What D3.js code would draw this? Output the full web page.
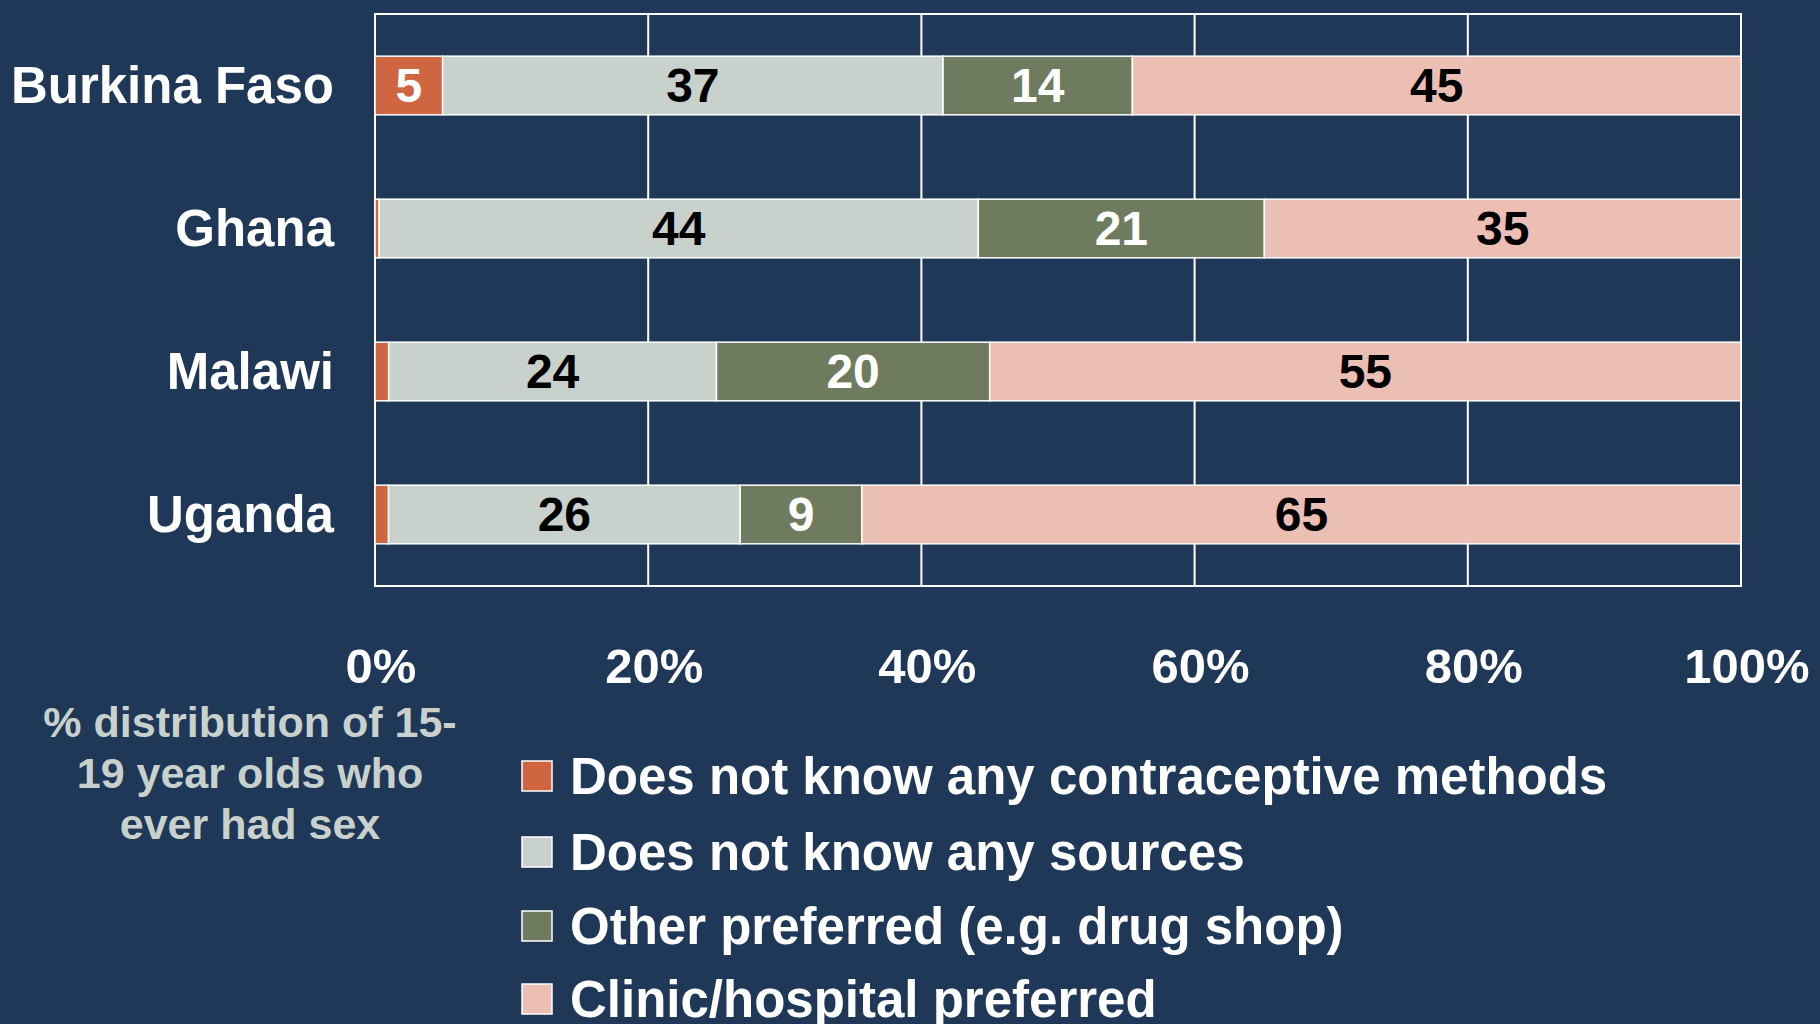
<!DOCTYPE html>
<html>
<head>
<meta charset="utf-8">
<script src="https://cdn.jsdelivr.net/npm/d3@7"></script>
<style>
  html, body { margin: 0; padding: 0; background: #1F3858; }
  svg { display: block; }
  text { font-family: "Liberation Sans", Arial, sans-serif; font-weight: bold; }
</style>
</head>
<body>
<script>
const countries = ["Burkina Faso", "Ghana", "Malawi", "Uganda"];
const seriesNames = [
  "Does not know any contraceptive methods",
  "Does not know any sources",
  "Other preferred (e.g. drug shop)",
  "Clinic/hospital preferred"
];
const noMethods   = [5, 0.3, 1, 1];
const noSources   = [37, 44, 24, 26];
const otherPref   = [14, 21, 20, 9];
const clinicPref  = [45, 35, 55, 65];
const tickValues  = [0, 0.2, 0.4, 0.6, 0.8, 1];
const tickLabels  = ["0%", "20%", "40%", "60%", "80%", "100%"];
const noteLines   = ["% distribution of 15-", "19 year olds who", "ever had sex"];
const colors      = ["#CF6541", "#C8D1CB", "#6F7B5F", "#EBBFB3"];
const labelColors = ["#FFFFFF", "#000000", "#FFFFFF", "#000000"];

const W = 1820, H = 1024;
const svg = d3.select("body").append("svg").attr("width", W).attr("height", H);
svg.append("rect").attr("width", W).attr("height", H).attr("fill", "#1F3858");

const keys = ["a", "b", "c", "d"];
const table = countries.map((c, i) => ({
  country: c, a: noMethods[i], b: noSources[i], c: otherPref[i], d: clinicPref[i]
}));
const stack = d3.stack().keys(keys).offset(d3.stackOffsetExpand);
const series = stack(table);

const x = d3.scaleLinear().domain([0, 1]).range([375, 1741]);
const y = d3.scaleBand().domain(countries).range([14, 586]).paddingInner(0.59).paddingOuter(0.295);

// gridlines
svg.append("g").selectAll("line").data(tickValues).join("line")
  .attr("x1", d => x(d)).attr("x2", d => x(d))
  .attr("y1", 14).attr("y2", 586)
  .attr("stroke", "#FFFFFF").attr("stroke-width", 2);
svg.append("rect").attr("x", x(0)).attr("y", 14)
  .attr("width", x(1) - x(0)).attr("height", 572)
  .attr("fill", "none").attr("stroke", "#FFFFFF").attr("stroke-width", 2);

// bars
const g = svg.append("g");
series.forEach((s, si) => {
  g.append("g").selectAll("rect").data(s).join("rect")
    .attr("x", d => x(d[0]))
    .attr("y", d => y(d.data.country))
    .attr("width", d => x(d[1]) - x(d[0]))
    .attr("height", y.bandwidth())
    .attr("fill", colors[si])
    .attr("stroke", "#FFFFFF").attr("stroke-width", 1.5);
  g.append("g").selectAll("text").data(s.filter(d => d.data[keys[si]] >= 3)).join("text")
    .attr("x", d => (x(d[0]) + x(d[1])) / 2)
    .attr("y", d => y(d.data.country) + y.bandwidth() / 2)
    .attr("dy", "0.34em")
    .attr("text-anchor", "middle")
    .attr("font-size", 48)
    .attr("fill", labelColors[si])
    .text(d => d.data[keys[si]]);
});

// country labels
svg.append("g").selectAll("text").data(countries).join("text")
  .attr("x", 334)
  .attr("y", d => y(d) + y.bandwidth() / 2)
  .attr("dy", "0.34em")
  .attr("text-anchor", "end")
  .attr("font-size", 51)
  .attr("fill", "#FFFFFF")
  .text(d => d);

// x tick labels
svg.append("g").selectAll("text").data(tickValues).join("text")
  .attr("x", (d) => x(d) + 6)
  .attr("y", 665)
  .attr("dy", "0.36em")
  .attr("text-anchor", "middle")
  .attr("font-size", 49)
  .attr("fill", "#FFFFFF")
  .text((d, i) => tickLabels[i]);

// note
svg.append("g").selectAll("text").data(noteLines).join("text")
  .attr("x", 250)
  .attr("y", (d, i) => 722 + i * 51)
  .attr("dy", "0.36em")
  .attr("text-anchor", "middle")
  .attr("font-size", 43)
  .attr("fill", "#C9D1CC")
  .text(d => d);

// legend
const legendY = [776, 852, 926, 999];
const lg = svg.append("g");
lg.selectAll("rect").data(seriesNames).join("rect")
  .attr("x", 522).attr("y", (d, i) => legendY[i] - 15)
  .attr("width", 30).attr("height", 30)
  .attr("fill", (d, i) => colors[i])
  .attr("stroke", "#FFFFFF").attr("stroke-width", 1.5);
lg.selectAll("text").data(seriesNames).join("text")
  .attr("x", 570).attr("y", (d, i) => legendY[i])
  .attr("dy", "0.36em")
  .attr("font-size", 51)
  .attr("fill", "#FFFFFF")
  .text(d => d);
</script>
</body>
</html>
